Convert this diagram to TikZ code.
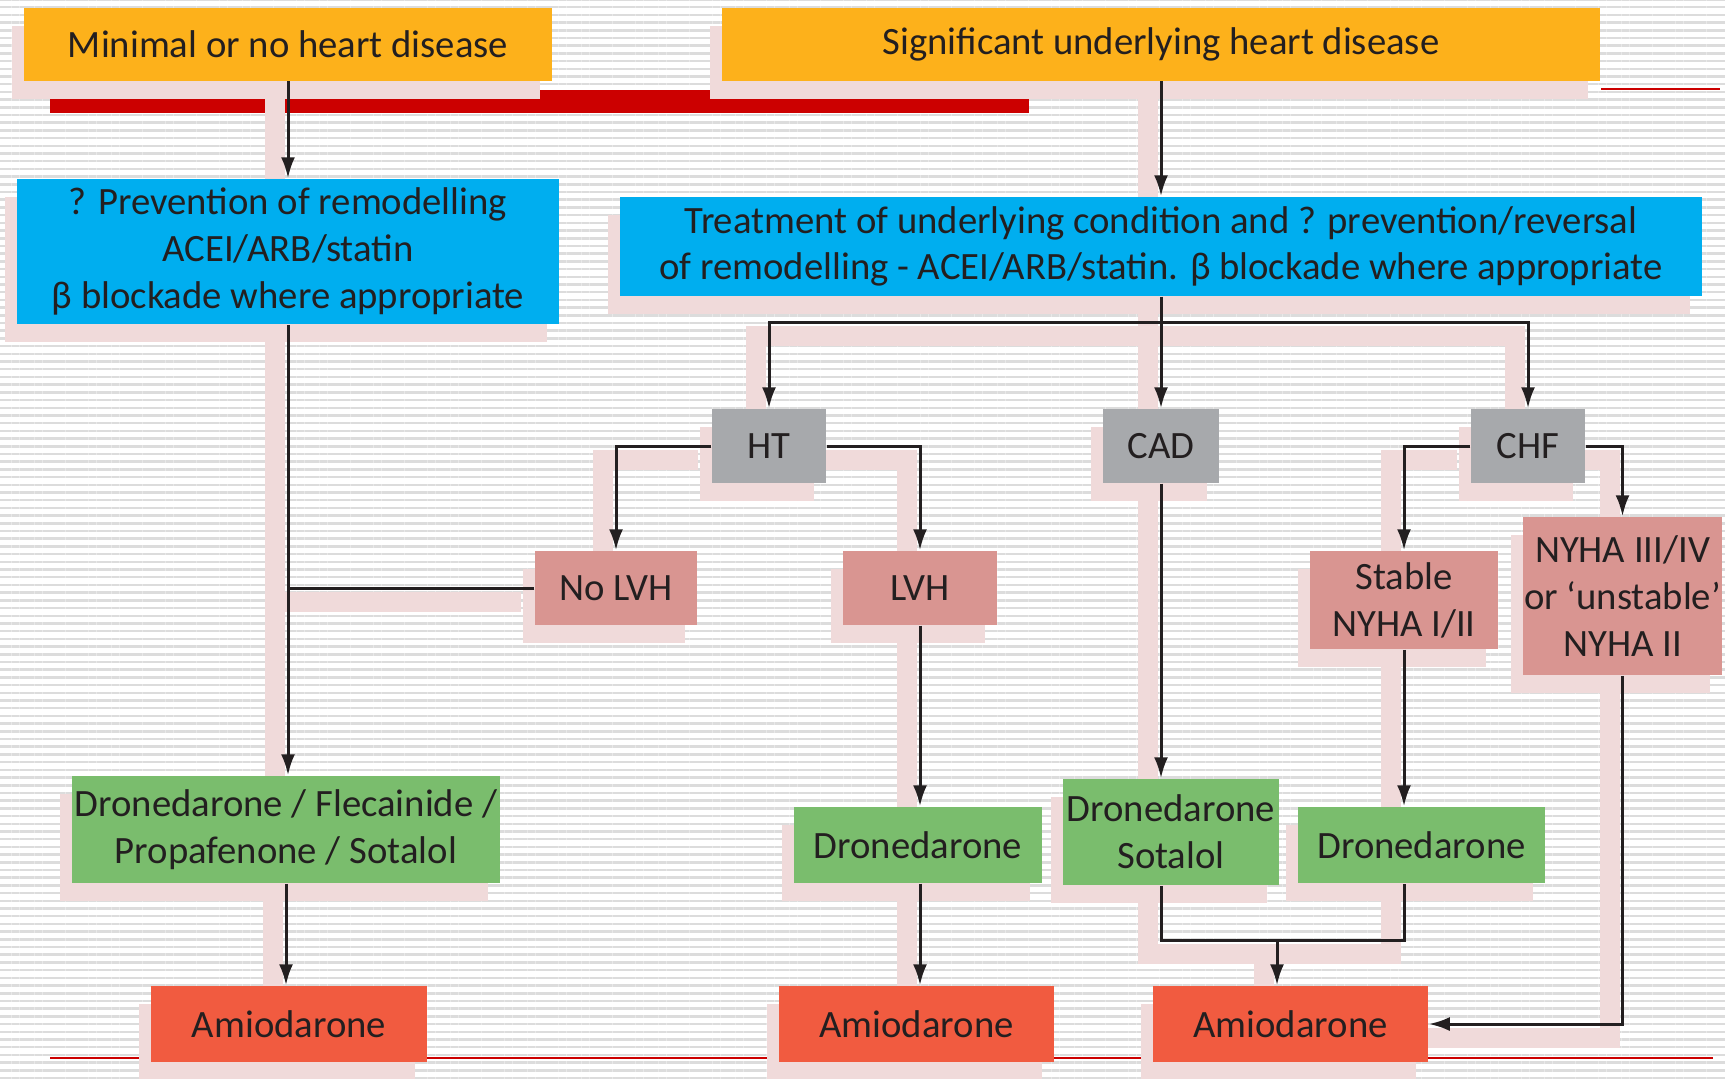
\documentclass[tikz,border=0pt]{standalone}
\usepackage{fontspec}
\setmainfont{Carlito}
\usetikzlibrary{arrows.meta,shadows,patterns.meta}

\definecolor{topfill}{HTML}{FDB11B}
\definecolor{treatfill}{HTML}{00AEEF}
\definecolor{greyfill}{HTML}{A7A9AC}
\definecolor{pinkfill}{HTML}{D99591}
\definecolor{drugfill}{HTML}{7ABD6D}
\definecolor{amiofill}{HTML}{F15B40}
\definecolor{barred}{HTML}{CC0000}
\definecolor{shadepink}{HTML}{F0DADA}
\definecolor{stripe}{HTML}{DCDCDC}
\definecolor{ink}{HTML}{231F20}

\pgfdeclarelayer{bg}
\pgfdeclarelayer{shade}
\pgfsetlayers{bg,shade,main}

% connector with its pink shadow underneath
\newcommand{\flow}[2][]{%
  \begin{pgfonlayer}{shade}\draw[flowshade] #2;\end{pgfonlayer}
  \draw[flow,#1] #2;}

\begin{document}
\begin{tikzpicture}[x=0.01cm, y=-0.01cm,
  box/.style={inner sep=0pt, align=center, text=ink,
    font=\fontsize{11}{13.3}\selectfont,
    drop shadow={shadow xshift=-0.12cm, shadow yshift=-0.18cm, fill=shadepink, opacity=1}},
  topbox/.style={box, fill=topfill},
  treatbox/.style={box, fill=treatfill},
  greybox/.style={box, fill=greyfill},
  pinkbox/.style={box, fill=pinkfill},
  drugbox/.style={box, fill=drugfill},
  amiobox/.style={box, fill=amiofill},
  flow/.style={draw=ink, line width=0.03cm},
  flowshade/.style={draw=shadepink, line width=0.2cm,
    transform canvas={shift={(-0.13cm,-0.14cm)}}},
  arr/.style={-{Latex[length=0.21cm, width=0.14cm]}}]
\useasboundingbox (0,0) rectangle (1725,1078);

% Background: striped slide with red rules
\begin{pgfonlayer}{bg}
\fill[white] (0,0) rectangle (1725,1078);
\fill[pattern={Lines[angle=0, distance=0.077cm, line width=0.025cm]}, pattern color=stripe] (0,0) rectangle (1725,1078);
\fill[barred] (50,90) rectangle (1029,113);
\draw[barred, line width=0.015cm] (1601,89) -- (1720,89);
\draw[barred, line width=0.015cm] (50,1058) -- (1713,1058);
\end{pgfonlayer}

% Top row
\node[topbox, minimum width=5.28cm, minimum height=0.72cm] (o1) at (288,44.5) {Minimal or no heart disease};
\node[topbox, minimum width=8.78cm, minimum height=0.72cm] (o2) at (1161,44.5) {Significant underlying heart disease};

% Treatment boxes
\node[treatbox, minimum width=5.42cm, minimum height=1.45cm] (b1) at (288,251.5) {? Prevention of remodelling\\ACEI/ARB/statin\\β blockade where appropriate};
\node[treatbox, minimum width=10.81cm, minimum height=0.99cm] (b2) at (1161,246.5) {Treatment of underlying condition and ? prevention/reversal\\of remodelling - ACEI/ARB/statin. β blockade where appropriate};

% Conditions
\node[greybox, minimum width=1.14cm, minimum height=0.74cm] (ht) at (769,446) {HT};
\node[greybox, minimum width=1.15cm, minimum height=0.74cm] (cad) at (1161,446) {CAD};
\node[greybox, minimum width=1.14cm, minimum height=0.74cm] (chf) at (1528,446) {CHF};

\node[pinkbox, minimum width=1.62cm, minimum height=0.74cm] (nolvh) at (616,588) {No LVH};
\node[pinkbox, minimum width=1.54cm, minimum height=0.74cm] (lvh) at (920,588) {LVH};
\node[pinkbox, minimum width=1.88cm, minimum height=0.98cm] (stable) at (1404,600) {Stable\\NYHA I/II};
\node[pinkbox, minimum width=1.98cm, minimum height=1.58cm] (nyha) at (1622.5,596) {NYHA III/IV\\or ‘unstable’\\NYHA II};

% Drugs
\node[drugbox, minimum width=4.28cm, minimum height=1.07cm] (g1) at (286,829.5) {Dronedarone / Flecainide /\\Propafenone / Sotalol};
\node[drugbox, minimum width=2.47cm, minimum height=0.76cm] (d2) at (918,845) {Dronedarone};
\node[drugbox, minimum width=2.16cm, minimum height=1.06cm] (ds) at (1171,832) {Dronedarone\\Sotalol};
\node[drugbox, minimum width=2.47cm, minimum height=0.76cm] (d3) at (1421.5,845) {Dronedarone};

\node[amiobox, minimum width=2.75cm, minimum height=0.76cm] (a1) at (289,1024) {Amiodarone};
\node[amiobox, minimum width=2.75cm, minimum height=0.76cm] (a2) at (916.5,1024) {Amiodarone};
\node[amiobox, minimum width=2.75cm, minimum height=0.76cm] (a3) at (1290.5,1024) {Amiodarone};

\coordinate (split) at (1161,322);
\coordinate (merge) at (1277,940);

% Connectors
\flow[arr]{(o1) -- (b1)}
\flow[arr]{(o2) -- (b2)}
\flow{(b2) -- (split)}
\flow[arr]{(split) -| (ht)}
\flow[arr]{(split) -- (cad)}
\flow[arr]{(split) -| (chf)}
\flow[arr]{(ht.west) -| (nolvh)}
\flow[arr]{(ht.east) -| (lvh)}
\flow[arr]{(chf.west) -| (stable)}
\flow[arr]{(chf.east) -| (nyha)}
\flow[arr]{(b1.south) -- (b1.south |- g1.north)}
\flow{(nolvh.west) -- (nolvh.west -| b1.south)}
\flow[arr]{(lvh.south) -- (lvh.south |- d2.north)}
\flow[arr]{(cad) -- (cad |- ds.north)}
\flow[arr]{(stable) -- (stable |- d3.north)}
\flow[arr]{(g1.south) -- (g1.south |- a1.north)}
\flow[arr]{(lvh |- d2.south) -- (lvh |- a2.north)}
\flow{(cad |- ds.south) |- (merge) -| (stable |- d3.south)}
\flow[arr]{(merge) -- (merge |- a3.north)}
\flow[arr]{(nyha.south) |- (a3.east)}
\end{tikzpicture}
\end{document}
